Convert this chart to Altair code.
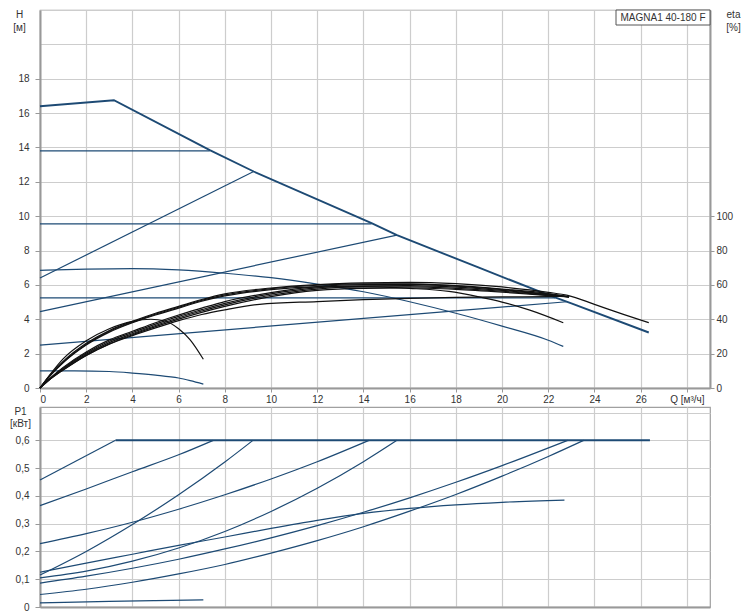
import altair as alt
import pandas as pd

BLUE = "#1d4a74"
BLACK = "#111111"
FONT = "Liberation Sans"
TXT = "#333333"

# ---------------- top panel: H [m] vs Q [m3/h] ----------------
MAX_Q = [0, 3.2, 7.35, 9.25, 14.35, 15.45, 19.0, 22.05, 23.0, 26.35]
MAX_H = [16.4, 16.75, 13.85, 12.6, 9.6, 8.9, 7.0, 5.39, 4.92, 3.23]

CP1_Q = [0, 7.35];   CP1_H = [13.8, 13.8]
CP2_Q = [0, 14.35];  CP2_H = [9.55, 9.55]
CP3_Q = [0, 22.3];   CP3_H = [5.25, 5.25]

PP1_Q = [0, 9.25];   PP1_H = [6.4, 12.6]
PP2_Q = [0, 15.45];  PP2_H = [4.45, 8.9]
PP3_Q = [0, 22.8];   PP3_H = [2.5, 5.02]

DR1_Q = [0, 2, 4, 6, 8, 10, 12, 14, 16, 18, 20, 22, 22.65]
DR1_H = [6.85, 6.92, 6.95, 6.87, 6.68, 6.42, 6.05, 5.6, 5.02, 4.35, 3.6, 2.78, 2.42]
DR2_Q = [0, 1.5, 3, 4, 5, 6, 6.5, 7.07]
DR2_H = [1.0, 1.0, 0.96, 0.87, 0.75, 0.58, 0.43, 0.23]

# efficiency curves, eta [%]
E0_Q = [0, 0.5, 1, 2, 3, 4, 4.8, 5.4, 6, 6.5, 7.07]
E0_V = [0, 9, 17, 27.5, 34.5, 38.8, 40, 39, 34.5, 28, 16.7]
E1_Q = [0, 0.5, 1, 2, 3, 4, 5, 6, 7, 8, 10, 12, 14, 16, 18, 20, 22, 22.84, 24, 25, 26.35]
E1_V = [0, 8.5, 15.5, 26, 33.5, 38.8, 43.5, 47.5, 51.5, 54.8, 58.2, 60.2, 61.2, 61.5, 60.7, 58.8, 55.7, 53.9, 48.7, 44, 38]
E2_Q = [0, 0.5, 1, 2, 3, 4, 5, 6, 7, 8, 10, 12, 14, 16, 18, 20, 22, 22.9]
E2_V = [0, 8.3, 15, 25.5, 33, 38.3, 43, 47, 51, 54.2, 57.8, 59.8, 60.6, 60.6, 59.6, 57.6, 55, 53]
E3_Q = [0, 0.5, 1, 2, 3, 4, 5, 6, 7, 8, 10, 12, 14, 16, 17.7, 19, 20, 21.2, 22.65]
E3_V = [0, 8, 14.7, 25, 32.5, 38, 42.5, 46.5, 50.5, 53.6, 57.2, 58.8, 59, 58, 56.2, 53, 50, 45.3, 38]
E4_Q = [0, 0.5, 1, 2, 3, 4, 5, 6, 7, 8, 10, 12, 14, 16, 18, 20, 22, 22.9]
E4_V = [0, 6.5, 12, 21, 28, 33, 38, 42.5, 46.5, 50.3, 55.5, 59, 60.2, 60.3, 59.3, 57.3, 54.6, 53]
E5_Q = [0, 0.5, 1, 2, 3, 4, 5, 6, 7, 8, 10, 12, 14, 16, 18, 20, 22, 22.9]
E5_V = [0, 6.2, 11.5, 20.3, 27.2, 32.3, 37.2, 41.7, 45.6, 49.3, 54.8, 58.3, 59.5, 59.6, 58.7, 56.8, 54.3, 53]
E6_Q = [0, 0.5, 1, 2, 3, 4, 5, 6, 7, 8, 10, 12, 14, 16, 18, 20, 22, 22.9]
E6_V = [0, 6, 11, 19.6, 26.4, 31.6, 36.4, 40.9, 44.8, 48.4, 54, 57.6, 58.8, 58.9, 58, 56.3, 54, 53]
E7_Q = [0, 0.5, 1, 2, 3, 4, 5, 6, 7, 8, 10, 12, 14, 16, 18, 20, 22, 22.9]
E7_V = [0, 5.8, 10.5, 19, 25.7, 31, 35.7, 40.1, 44, 47.5, 53.2, 56.8, 58, 58.2, 57.4, 55.8, 53.8, 53]
E8_Q = [0, 0.5, 1, 2, 3, 4, 5, 6, 7, 8, 9.5, 12, 14, 16, 18, 20, 22, 22.9]
E8_V = [0, 5.8, 10.5, 19, 25.5, 30.5, 35, 39.2, 42.8, 45.5, 48.7, 50.3, 51.4, 52.2, 52.7, 53, 53.2, 53.3]

# ---------------- bottom panel: P1 [kW] vs Q ----------------
PMAX_Q = [3.27, 26.4];  PMAX_V = [0.6, 0.6]
P1_Q = [0, 3.27];       P1_V = [0.457, 0.6]
P2_Q = [0, 2, 4, 6, 7.5];  P2_V = [0.365, 0.425, 0.487, 0.548, 0.6]
P3_Q = [0, 2, 4, 6, 8, 9.22];  P3_V = [0.115, 0.2, 0.297, 0.404, 0.522, 0.6]
P4_Q = [0, 2, 4, 6, 8, 10, 12, 14.24]
P4_V = [0.228, 0.264, 0.305, 0.352, 0.404, 0.461, 0.523, 0.6]
P5_Q = [0, 2, 4, 6, 8, 10, 12, 14, 15.45]
P5_V = [0.105, 0.129, 0.165, 0.2125, 0.272, 0.344, 0.4275, 0.523, 0.6]
P6_Q = [0, 2, 4, 6, 8, 10, 12, 14, 16, 18, 20, 22.7]
P6_V = [0.125, 0.158, 0.19, 0.222, 0.252, 0.283, 0.312, 0.337, 0.355, 0.368, 0.377, 0.385]
P7_Q = [0, 2, 4, 6, 8, 10, 12, 14, 16, 18, 20, 22.84]
P7_V = [0.086, 0.111, 0.1395, 0.172, 0.209, 0.249, 0.293, 0.341, 0.393, 0.449, 0.509, 0.6]
P8_Q = [0, 2, 4, 6, 8, 10, 12, 14, 16, 18, 20, 22, 23.53]
P8_V = [0.045, 0.064, 0.089, 0.119, 0.153, 0.194, 0.239, 0.289, 0.345, 0.405, 0.471, 0.542, 0.6]
P9_Q = [0, 3, 5, 7.07];  P9_V = [0.015, 0.02, 0.023, 0.026]

X_TICKS = list(range(0, 29, 2))
H_TICKS = list(range(0, 23, 2))
ETA_TICKS = list(range(0, 221, 20))
P_TICKS = [0, 0.1, 0.2, 0.3, 0.4, 0.5, 0.6, 0.7]
LABEL_TEXT = ["MAGNA1 40-180 F"]


def frame(series, yname):
    rows = []
    for name, (qs, vs) in series.items():
        for i, (q, v) in enumerate(zip(qs, vs)):
            rows.append({"series": name, "Q": q, yname: v, "order": i})
    return pd.DataFrame(rows)


df_max = frame({"max": (MAX_Q, MAX_H)}, "H")
df_straight = frame({"cp1": (CP1_Q, CP1_H), "cp2": (CP2_Q, CP2_H), "cp3": (CP3_Q, CP3_H),
                     "pp1": (PP1_Q, PP1_H), "pp2": (PP2_Q, PP2_H), "pp3": (PP3_Q, PP3_H)}, "H")
df_droop = frame({"dr1": (DR1_Q, DR1_H), "dr2": (DR2_Q, DR2_H)}, "H")
df_eta = frame({"e0": (E0_Q, E0_V), "e1": (E1_Q, E1_V), "e2": (E2_Q, E2_V), "e3": (E3_Q, E3_V),
                "e4": (E4_Q, E4_V), "e5": (E5_Q, E5_V), "e6": (E6_Q, E6_V), "e7": (E7_Q, E7_V),
                "e8": (E8_Q, E8_V)}, "eta")
df_pmax = frame({"pmax": (PMAX_Q, PMAX_V)}, "P")
df_p = frame({"p1": (P1_Q, P1_V), "p2": (P2_Q, P2_V), "p3": (P3_Q, P3_V), "p4": (P4_Q, P4_V),
              "p5": (P5_Q, P5_V), "p6": (P6_Q, P6_V), "p7": (P7_Q, P7_V), "p8": (P8_Q, P8_V),
              "p9": (P9_Q, P9_V)}, "P")

W = 670
H_TOP = 378
H_BOT = 200

xscale = alt.Scale(domain=[0, 29], nice=False, zero=False)
hscale = alt.Scale(domain=[0, 22], nice=False, zero=False)
etascale = alt.Scale(domain=[0, 220], nice=False, zero=False)
pscale = alt.Scale(domain=[0, 0.72], nice=False, zero=False)

x_axis_top = alt.Axis(values=X_TICKS, title=None, grid=True, tickSize=4, labelPadding=2,
                      labelExpr="datum.value == 28 ? 'Q [м³/ч]' : datum.label")
h_axis = alt.Axis(values=H_TICKS, grid=True, tickSize=5, labelPadding=6,
                  labelExpr="datum.value > 18 ? '' : datum.label",
                  tickOpacity={"condition": {"test": "datum.value > 18", "value": 0}, "value": 1},
                  title=["H", "[м]"], titleAngle=0, titleAlign="center", titleBaseline="alphabetic",
                  titleX=-21, titleY=7, titleLineHeight=13)
eta_axis = alt.Axis(values=ETA_TICKS, orient="right", grid=False, tickSize=4, labelPadding=2,
                    labelExpr="datum.value > 100 ? '' : datum.label",
                    tickOpacity={"condition": {"test": "datum.value > 100", "value": 0}, "value": 1},
                    title=["eta", "[%]"], titleAngle=0, titleAlign="center", titleBaseline="alphabetic",
                    titleX=23, titleY=7, titleLineHeight=13)

enc_x_top = alt.X("Q:Q", scale=xscale, axis=x_axis_top)
enc_h = alt.Y("H:Q", scale=hscale, axis=h_axis)

straight = alt.Chart(df_straight).mark_line(color=BLUE, strokeWidth=1.2).encode(
    x=enc_x_top, y=enc_h, detail="series:N", order="order:Q")
droop = alt.Chart(df_droop).mark_line(color=BLUE, strokeWidth=1.2, interpolate="monotone").encode(
    x=enc_x_top, y=enc_h, detail="series:N", order="order:Q")
maxc = alt.Chart(df_max).mark_line(color=BLUE, strokeWidth=1.9).encode(
    x=enc_x_top, y=enc_h, order="order:Q")
blue_layer = alt.layer(straight, droop, maxc)

eta_layer = alt.Chart(df_eta).mark_line(color=BLACK, strokeWidth=1.2, interpolate="monotone").encode(
    x=enc_x_top, y=alt.Y("eta:Q", scale=etascale, axis=eta_axis),
    detail="series:N", order="order:Q")

lab_df = pd.DataFrame({"t": LABEL_TEXT})
box = alt.Chart(lab_df).mark_rect(fill="white", stroke="#555555", strokeWidth=1).encode(
    x=alt.value(W - 94), x2=alt.value(W), y=alt.value(0), y2=alt.value(15))
box_text = alt.Chart(lab_df).mark_text(font=FONT, fontSize=10, color=TXT, align="center",
                                       baseline="middle").encode(
    x=alt.value(W - 47), y=alt.value(8), text="t:N")

top = alt.layer(blue_layer, eta_layer, box, box_text).resolve_scale(y="independent").properties(
    width=W, height=H_TOP)

# bottom
x_axis_bot = alt.Axis(values=X_TICKS, title=None, grid=True, labels=False, ticks=False)
p_axis = alt.Axis(values=P_TICKS, grid=True, tickSize=5, labelPadding=6,
                  labelExpr="datum.value > 0.65 ? '' : (datum.value == 0 ? '0' : replace(format(datum.value, '.1f'), '.', ','))",
                  tickOpacity={"condition": {"test": "datum.value > 0.65", "value": 0}, "value": 1},
                  title=["P1", "[кВт]"], titleAngle=0, titleAlign="center", titleBaseline="alphabetic",
                  titleX=-20, titleY=7, titleLineHeight=12)
enc_x_bot = alt.X("Q:Q", scale=xscale, axis=x_axis_bot)
enc_p = alt.Y("P:Q", scale=pscale, axis=p_axis)

p_lines = alt.Chart(df_p).mark_line(color=BLUE, strokeWidth=1.2, interpolate="monotone").encode(
    x=enc_x_bot, y=enc_p, detail="series:N", order="order:Q")
p_max = alt.Chart(df_pmax).mark_line(color=BLUE, strokeWidth=2).encode(
    x=enc_x_bot, y=enc_p, order="order:Q")
bottom = alt.layer(p_lines, p_max).properties(width=W, height=H_BOT)

chart = alt.vconcat(top, bottom, spacing=0).properties(
    padding={"left": 0, "top": 0, "right": 0, "bottom": 0}
).configure(background="white").configure_view(
    stroke="#a0a0a0", strokeWidth=1.2
).configure_axis(
    labelFont=FONT, labelFontSize=10, labelColor=TXT,
    titleFont=FONT, titleFontSize=10, titleColor=TXT, titleFontWeight="normal",
    domainColor="#999999", domainWidth=2, tickColor="#999999", tickWidth=1,
    gridColor="#cdcdcd", gridWidth=1.2
)

chart.save("out.html", embed_options={"renderer": "svg", "actions": False})
